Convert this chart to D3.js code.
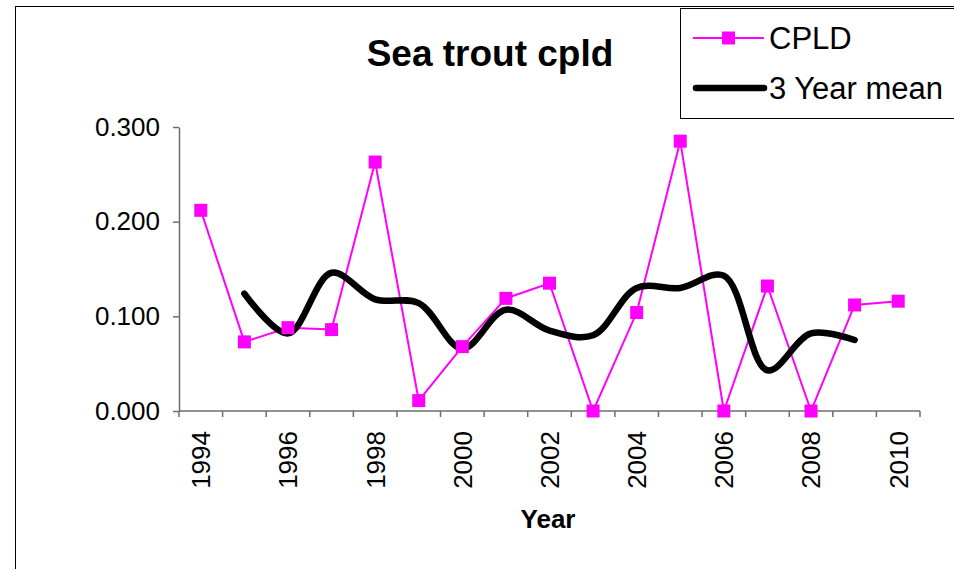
<!DOCTYPE html>
<html>
<head>
<meta charset="utf-8">
<script src="https://cdn.jsdelivr.net/npm/d3@7"></script>
<style>
  body { margin: 0; background: #fff; }
  svg { display: block; font-family: Arial, "Liberation Sans", sans-serif; }
</style>
</head>
<body>
<div id="chart"></div>
<script>
/* DATA */
const years = [1994, 1995, 1996, 1997, 1998, 1999, 2000, 2001, 2002,
               2003, 2004, 2005, 2006, 2007, 2008, 2009, 2010];
const cpld = [0.212, 0.073, 0.088, 0.086, 0.263, 0.011, 0.068, 0.119, 0.135,
              0.000, 0.104, 0.285, 0.000, 0.132, 0.000, 0.112, 0.116];
// 3 year mean, 1995 - 2009
const meanYears = [1995, 1996, 1997, 1998, 1999, 2000, 2001, 2002,
                   2003, 2004, 2005, 2006, 2007, 2008, 2009];
const meanValues = [0.124, 0.082, 0.146, 0.118, 0.114, 0.066, 0.107, 0.085,
                    0.080, 0.130, 0.130, 0.143, 0.043, 0.082, 0.075];
const yTicks = [0, 0.1, 0.2, 0.3];
const yearLabels = [1994, 1996, 1998, 2000, 2002, 2004, 2006, 2008, 2010];

/* CONSTANTS */
const width = 954;
const height = 569;
const plot = { left: 179, right: 920, top: 127, bottom: 411 };
const pink = "#ff00ff";
const axisColor = "#6e6e6e";

const svg = d3.select("#chart")
  .append("svg")
  .attr("width", width)
  .attr("height", height);

// chart frame
svg.append("rect")
  .attr("x", 15.5).attr("y", 6.5)
  .attr("width", 1000).attr("height", 700)
  .attr("fill", "none")
  .attr("stroke", "#000")
  .attr("stroke-width", 1);

// SCALES
const xScale = d3.scaleBand()
  .domain(years)
  .range([plot.left, plot.right])
  .paddingInner(0).paddingOuter(0);

const xCenter = d => xScale(d) + xScale.bandwidth() / 2;

const yScale = d3.scaleLinear()
  .domain([0, 0.3])
  .range([plot.bottom, plot.top]);

// Y AXIS
const yAxisGroup = svg.append("g")
  .attr("transform", `translate(${plot.left},0)`)
  .call(d3.axisLeft(yScale)
    .tickValues(yTicks)
    .tickFormat(d3.format(".3f"))
    .tickSize(6)
    .tickPadding(13)
    .tickSizeOuter(0));

yAxisGroup.select(".domain").attr("stroke", axisColor).attr("stroke-width", 1.5);
yAxisGroup.selectAll(".tick line").attr("stroke", axisColor).attr("stroke-width", 1.5);
yAxisGroup.selectAll(".tick text")
  .attr("fill", "#000")
  .style("font-size", "26px")
  .style("font-family", "Arial, 'Liberation Sans', sans-serif");

// X AXIS line and ticks at category boundaries
const xAxisGroup = svg.append("g");
xAxisGroup.append("line")
  .attr("x1", plot.left).attr("x2", plot.right)
  .attr("y1", plot.bottom).attr("y2", plot.bottom)
  .attr("stroke", axisColor).attr("stroke-width", 1.5);

const boundaries = years.map(d => xScale(d)).concat([xScale(years[years.length - 1]) + xScale.bandwidth()]);
xAxisGroup.selectAll(".xtick")
  .data(boundaries)
  .join("line")
  .attr("class", "xtick")
  .attr("x1", d => d).attr("x2", d => d)
  .attr("y1", plot.bottom).attr("y2", plot.bottom + 6)
  .attr("stroke", axisColor).attr("stroke-width", 1.5);

xAxisGroup.selectAll(".xlabel")
  .data(yearLabels)
  .join("text")
  .attr("class", "xlabel")
  .attr("transform", d => `translate(${xCenter(d)},${plot.bottom + 20}) rotate(-90)`)
  .attr("dy", "0.36em")
  .attr("text-anchor", "end")
  .style("font-size", "26px")
  .text(d => d);

// AXIS TITLES
svg.append("text")
  .attr("x", 548)
  .attr("y", 528)
  .attr("text-anchor", "middle")
  .style("font-weight", "bold")
  .style("font-size", "26px")
  .text("Year");

svg.append("text")
  .attr("x", 490)
  .attr("y", 66)
  .attr("text-anchor", "middle")
  .style("font-weight", "bold")
  .style("font-size", "37px")
  .text("Sea trout cpld");

// CPLD LINE
const cpldData = years.map((y, i) => ({ year: y, value: cpld[i] }));
const meanData = meanYears.map((y, i) => ({ year: y, value: meanValues[i] }));

svg.append("path")
  .datum(cpldData)
  .attr("fill", "none")
  .attr("stroke", pink)
  .attr("stroke-width", 2)
  .attr("d", d3.line().x(d => xCenter(d.year)).y(d => yScale(d.value)));

// 3 YEAR MEAN (smoothed)
svg.append("path")
  .datum(meanData)
  .attr("fill", "none")
  .attr("stroke", "#000")
  .attr("stroke-width", 6.5)
  .attr("stroke-linecap", "round")
  .attr("stroke-linejoin", "round")
  .attr("d", d3.line()
    .curve(d3.curveCatmullRom.alpha(0.5))
    .x(d => xCenter(d.year)).y(d => yScale(d.value)));

// markers
const ms = 13;
svg.selectAll(".marker")
  .data(cpldData)
  .join("rect")
  .attr("class", "marker")
  .attr("x", d => xCenter(d.year) - ms / 2)
  .attr("y", d => yScale(d.value) - ms / 2)
  .attr("width", ms).attr("height", ms)
  .attr("fill", pink);

// LEGEND
const legend = svg.append("g");
legend.append("rect")
  .attr("x", 680.5).attr("y", 8.5)
  .attr("width", 400).attr("height", 110)
  .attr("fill", "#fff")
  .attr("stroke", "#000")
  .attr("stroke-width", 1);

legend.append("line")
  .attr("x1", 693).attr("x2", 764).attr("y1", 38).attr("y2", 38)
  .attr("stroke", pink).attr("stroke-width", 2);
legend.append("rect")
  .attr("x", 728.5 - ms / 2).attr("y", 38 - ms / 2)
  .attr("width", ms).attr("height", ms)
  .attr("fill", pink);
legend.append("text")
  .attr("x", 769).attr("y", 49)
  .style("font-size", "31px")
  .text("CPLD");

legend.append("line")
  .attr("x1", 696).attr("x2", 764).attr("y1", 88).attr("y2", 88)
  .attr("stroke", "#000").attr("stroke-width", 6.5)
  .attr("stroke-linecap", "round");
legend.append("text")
  .attr("x", 769).attr("y", 99)
  .style("font-size", "31px")
  .text("3 Year mean");
</script>
</body>
</html>
